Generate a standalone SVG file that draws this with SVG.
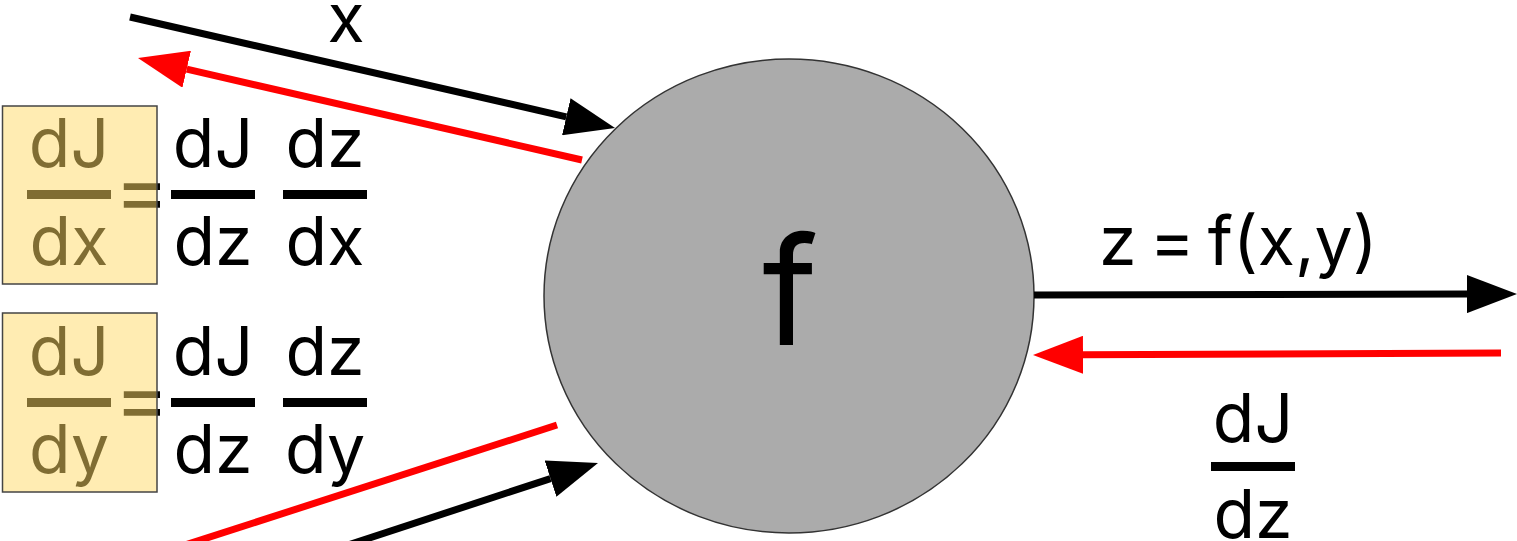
<svg xmlns="http://www.w3.org/2000/svg" width="1517" height="541" viewBox="0 0 1517 541">
<style>
  text { font-family: Inter, "Noto Sans", sans-serif; fill: #000; }
  .t { font-size: 68px; }
  .eq { font-size: 82px; }
  .c { text-anchor: middle; }
  .bar { fill: #000; }
  .hl { fill: #ffd966; fill-opacity: 0.5; stroke: #444; stroke-width: 1.5; }
  .blk { stroke: #000; stroke-width: 7; fill: none; }
  .red { stroke: #ff0000; stroke-width: 7; fill: none; }
</style>
<defs>
  <marker id="ab" markerUnits="userSpaceOnUse" markerWidth="50" markerHeight="38" refX="0" refY="19" orient="auto">
    <path d="M0,0 L50,19 L0,38 z" fill="#000"/>
  </marker>
  <marker id="ar" markerUnits="userSpaceOnUse" markerWidth="50" markerHeight="38" refX="0" refY="19" orient="auto">
    <path d="M0,0 L50,19 L0,38 z" fill="#ff0000"/>
  </marker>
</defs>

<g id="node-f">
  <ellipse cx="789" cy="296" rx="245" ry="237" fill="#ababab" stroke="#333" stroke-width="1.5"/>
  <text class="c" x="790" y="345" font-size="150">f</text>
</g>

<g id="connectors">
  <line class="blk" x1="130" y1="17" x2="566.3" y2="116.8" marker-end="url(#ab)"/>
  <line class="red" x1="582" y1="160" x2="186.7" y2="69.2" marker-end="url(#ar)"/>
  <line class="blk" x1="1034" y1="295" x2="1467" y2="294.1" marker-end="url(#ab)"/>
  <line class="red" x1="1501" y1="353" x2="1083" y2="354.8" marker-end="url(#ar)"/>
  <line class="blk" x1="345" y1="546" x2="550.5" y2="478.6" marker-end="url(#ab)"/>
  <line class="red" x1="557" y1="425" x2="185" y2="545"/>
</g>

<g id="label-x">
  <text class="t c" x="346" y="42">x</text>
</g>

<g id="label-z">
  <text class="t" x="1099" y="265" word-spacing="-6">z = f(x,y)</text>
</g>

<g id="label-dJdz">
  <text class="t c" x="1253" y="442">dJ</text>
  <rect class="bar" x="1211" y="462" width="84" height="9"/>
  <text class="t c" x="1253" y="538">dz</text>
</g>

<g id="formula-dx">
  <text class="t c" x="69" y="167">dJ</text>
  <rect class="bar" x="27" y="190" width="84" height="9"/>
  <text class="t c" x="69" y="265">dx</text>
  <text class="eq c" x="142" y="219">=</text>
  <text class="t c" x="213" y="167">dJ</text>
  <rect class="bar" x="171" y="190" width="84" height="9"/>
  <text class="t c" x="213" y="265">dz</text>
  <text class="t c" x="325" y="167">dz</text>
  <rect class="bar" x="283" y="190" width="84" height="9"/>
  <text class="t c" x="325" y="265">dx</text>
  <rect class="hl" x="2.5" y="106" width="154.5" height="178"/>
</g>

<g id="formula-dy">
  <text class="t c" x="69" y="375">dJ</text>
  <rect class="bar" x="27" y="398" width="84" height="9"/>
  <text class="t c" x="69" y="473">dy</text>
  <text class="eq c" x="142" y="427">=</text>
  <text class="t c" x="213" y="375">dJ</text>
  <rect class="bar" x="171" y="398" width="84" height="9"/>
  <text class="t c" x="213" y="473">dz</text>
  <text class="t c" x="325" y="375">dz</text>
  <rect class="bar" x="283" y="398" width="84" height="9"/>
  <text class="t c" x="325" y="473">dy</text>
  <rect class="hl" x="2.5" y="313" width="154.5" height="179"/>
</g>
</svg>
